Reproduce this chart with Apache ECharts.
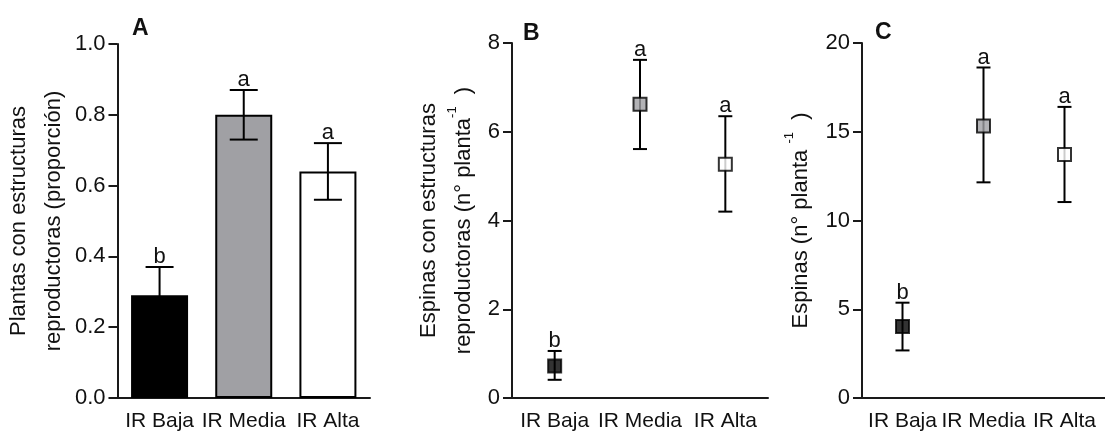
<!DOCTYPE html>
<html><head><meta charset="utf-8">
<script src="https://cdn.jsdelivr.net/npm/echarts@6/dist/echarts.min.js"></script>
<style>html,body{margin:0;padding:0;background:#fff}#c{width:1105px;height:432px}</style>
</head><body><div id="c"></div>
<script>
const categories = ['IR Baja', 'IR Media', 'IR Alta'];
const letters = ['b', 'a', 'a'];
// Panel A: proportion of plants with reproductive structures
const propMean = [0.29, 0.80, 0.64];
const propLow  = [0.21, 0.73, 0.56];
const propHigh = [0.37, 0.87, 0.72];
// Panel B: spines with reproductive structures (n° planta^-1)
const repMean = [0.72, 6.62, 5.27];
const repLow  = [0.41, 5.61, 4.20];
const repHigh = [1.06, 7.62, 6.35];
// Panel C: spines (n° planta^-1)
const espMean = [4.03, 15.33, 13.72];
const espLow  = [2.68, 12.15, 11.04];
const espHigh = [5.37, 18.62, 16.40];
const yTicksA = [0, 0.2, 0.4, 0.6, 0.8, 1.0];
const yTicksB = [0, 2, 4, 6, 8];
const yTicksC = [0, 5, 10, 15, 20];

const fills = ['#000000', '#a0a0a4', '#ffffff'];
const FONT = 'Liberation Sans, Arial, sans-serif';
const INK = '#000000';
const TXT = '#111111';

const chart = echarts.init(document.getElementById('c'));

function errSeries(idx, low, high, cap) {
  return {
    type: 'custom', xAxisIndex: idx, yAxisIndex: idx, z: 5,
    data: categories.map((c, i) => [i, low[i], high[i], letters[i]]),
    renderItem: function (params, api) {
      const i = api.value(0);
      const pl = api.coord([i, api.value(1)]);
      const ph = api.coord([i, api.value(2)]);
      const st = { stroke: INK, lineWidth: 2 };
      return {
        type: 'group',
        children: [
          { type: 'line', shape: { x1: pl[0], y1: pl[1], x2: ph[0], y2: ph[1] }, style: st },
          { type: 'line', shape: { x1: pl[0] - cap / 2, y1: pl[1], x2: pl[0] + cap / 2, y2: pl[1] }, style: st },
          { type: 'line', shape: { x1: ph[0] - cap / 2, y1: ph[1], x2: ph[0] + cap / 2, y2: ph[1] }, style: st },
          { type: 'text', style: { text: letters[i], x: ph[0], y: ph[1] + 1, align: 'center', verticalAlign: 'bottom', fontSize: 22, fontFamily: FONT, fill: TXT } }
        ]
      };
    }
  };
}

function xAx(idx) {
  return {
    type: 'category', gridIndex: idx, data: categories,
    axisLine: { lineStyle: { color: '#1a1a1a', width: 2 } },
    axisTick: { alignWithLabel: true, length: 9, lineStyle: { color: '#1a1a1a', width: 2 } },
    axisLabel: { color: TXT, fontSize: 21, fontFamily: FONT, margin: 13, interval: 0 },
    splitLine: { show: false }
  };
}
function yAx(idx, ticks, name, gap, fmt) {
  return {
    type: 'value', gridIndex: idx, min: ticks[0], max: ticks[ticks.length - 1],
    interval: ticks[1] - ticks[0],
    axisLine: { show: true, lineStyle: { color: '#1a1a1a', width: 2 } },
    axisTick: { show: true, length: 9, lineStyle: { color: '#1a1a1a', width: 2 } },
    axisLabel: { color: TXT, fontSize: 22, fontFamily: FONT, margin: 12, formatter: fmt },
    splitLine: { show: false },
    name: name, nameLocation: 'middle', nameRotate: 90, nameGap: gap,
    nameTextStyle: {
      color: TXT, fontSize: 22, fontFamily: FONT, lineHeight: 35,
      rich: { sup: { fontSize: 13, fontFamily: FONT, color: TXT, verticalAlign: 'top', lineHeight: 22 } }
    }
  };
}

const option = {
  animation: false,
  backgroundColor: '#ffffff',
  title: [
    { text: 'A', left: 132, top: 17, padding: 0, textStyle: { fontSize: 23, fontWeight: 'bold', fontFamily: FONT, color: TXT } },
    { text: 'B', left: 523, top: 22, padding: 0, textStyle: { fontSize: 23, fontWeight: 'bold', fontFamily: FONT, color: TXT } },
    { text: 'C', left: 875, top: 21, padding: 0, textStyle: { fontSize: 23, fontWeight: 'bold', fontFamily: FONT, color: TXT } }
  ],
  grid: [
    { left: 116, top: 44, width: 254, height: 354 },
    { left: 512, top: 43, width: 256, height: 356 },
    { left: 862, top: 43, width: 256, height: 356 }
  ],
  xAxis: [xAx(0), xAx(1), xAx(2)],
  yAxis: [
    yAx(0, yTicksA, 'Plantas con estructuras\nreproductoras (proporción)', 43, v => v.toFixed(1)),
    yAx(1, yTicksB, 'Espinas con estructuras\nreproductoras (n° planta{sup|-1}  )', 31, v => String(v)),
    yAx(2, yTicksC, 'Espinas (n° planta {sup|-1}  )', 44, v => String(v))
  ],
  series: [
    {
      type: 'bar', xAxisIndex: 0, yAxisIndex: 0, barWidth: 57, z: 2,
      data: propMean.map((v, i) => ({ value: v, itemStyle: { color: fills[i], borderColor: INK, borderWidth: 2 } }))
    },
    errSeries(0, propLow, propHigh, 28),
    errSeries(1, repLow, repHigh, 14),
    {
      type: 'scatter', xAxisIndex: 1, yAxisIndex: 1, symbol: 'rect', symbolSize: 13, z: 10,
      data: repMean.map((v, i) => ({ value: v, itemStyle: { color: fills[i], borderColor: INK, borderWidth: 2 } }))
    },
    errSeries(2, espLow, espHigh, 14),
    {
      type: 'scatter', xAxisIndex: 2, yAxisIndex: 2, symbol: 'rect', symbolSize: 13, z: 10,
      data: espMean.map((v, i) => ({ value: v, itemStyle: { color: fills[i], borderColor: INK, borderWidth: 2 } }))
    }
  ]
};
chart.setOption(option);
</script></body></html>
